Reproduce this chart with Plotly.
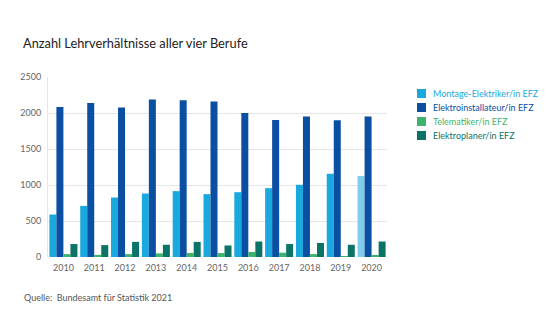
import plotly.graph_objects as go

years = ["2010", "2011", "2012", "2013", "2014", "2015", "2016", "2017", "2018", "2019", "2020"]
montage = [590, 710, 826, 882, 915, 873, 900, 956, 1003, 1156, 1124]
elektroinst = [2085, 2140, 2075, 2186, 2177, 2158, 2000, 1903, 1950, 1900, 1950]
telematiker = [40, 30, 40, 50, 55, 55, 70, 60, 40, 8, 20]
elektroplaner = [180, 165, 210, 170, 210, 160, 215, 180, 195, 170, 215]

names = ["Montage-Elektriker/in EFZ", "Elektroinstallateur/in EFZ", "Telematiker/in EFZ", "Elektroplaner/in EFZ"]
colors = ["#1aa9de", "#0b4fa3", "#3db36b", "#0b7466"]
series = [montage, elektroinst, telematiker, elektroplaner]

L, R, T, B = 48, 173, 77, 79
W, H = 560, 336
PW, PH = W - L - R, H - T - B

def px(x):
    return (x - L) / PW

def py(y):
    return (H - B - y) / PH

fig = go.Figure()
for i, (name, vals, col) in enumerate(zip(names, series, colors)):
    mcol = [col] * len(vals)
    if i == 0:
        mcol[-1] = "#7fcdea"
    fig.add_trace(go.Bar(
        x=years, y=vals, name=name,
        marker=dict(color=mcol, line=dict(width=0)),
        showlegend=False,
    ))

annotations = [
    dict(text="Anzahl Lehrverhältnisse aller vier Berufe", xref="paper", yref="paper",
         x=px(21), y=py(43), xanchor="left", yanchor="middle", showarrow=False,
         font=dict(size=12.8, color="#222")),
    dict(text="Quelle:  Bundesamt für Statistik 2021", xref="paper", yref="paper",
         x=px(22), y=py(297), xanchor="left", yanchor="middle", showarrow=False,
         font=dict(size=9, color="#555")),
]
shapes = []
row_y = [93.5, 107.5, 121.5, 135.5]
for name, col, yy in zip(names, colors, row_y):
    annotations.append(dict(text=name, xref="paper", yref="paper", x=px(431), y=py(yy),
                            xanchor="left", yanchor="middle", showarrow=False,
                            font=dict(size=9, color=col)))
    shapes.append(dict(type="rect", xref="paper", yref="paper",
                       x0=px(417), x1=px(426), y0=py(yy - 4.5), y1=py(yy + 4.5),
                       fillcolor=col, line=dict(width=0)))

fig.update_layout(
    width=W, height=H,
    margin=dict(l=L, r=R, t=T, b=B),
    paper_bgcolor="white", plot_bgcolor="white",
    barmode="group", bargap=0.09, bargroupgap=0,
    font=dict(family="Lato, Open Sans, sans-serif", size=9, color="#666"),
    showlegend=False,
    annotations=annotations,
    shapes=shapes,
)
fig.update_xaxes(showgrid=False, showline=False, ticks="", tickfont=dict(size=9, color="#666"),
                 ticklabelstandoff=4)
fig.update_yaxes(range=[0, 2500], dtick=500, showgrid=True, gridcolor="#e6e6e6", gridwidth=1,
                 showline=True, linecolor="#e6e6e6", zeroline=False, ticks="",
                 tickfont=dict(size=9, color="#666"), ticklabelstandoff=4)

fig.write_html("out.html")
